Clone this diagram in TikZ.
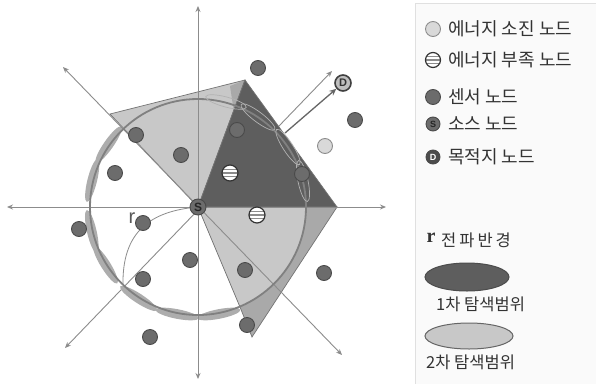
\documentclass[tikz,border=0pt]{standalone}
\usepackage{fontspec}
\setmainfont{Liberation Sans}
\newfontfamily\kr{Noto Sans CJK KR}
\newfontfamily\serifr{Liberation Serif}
\usetikzlibrary{arrows.meta,shapes.geometric}
\definecolor{axisgray}{HTML}{8C8C8C}
\definecolor{darkfill}{HTML}{5E5E5E}
\definecolor{lightfill}{HTML}{C8C8C8}
\definecolor{lightout}{HTML}{A9A9A9}
\definecolor{lensfill}{HTML}{ADADAD}
\definecolor{nodefill}{HTML}{6C6C6C}
\definecolor{nodeedge}{HTML}{4A4A4A}
\definecolor{txt}{HTML}{333333}
\begin{document}
\begin{tikzpicture}[x=1pt,y=-1pt,
  axis/.style={draw=axisgray, line width=0.9pt, {Stealth[length=6pt,width=5pt]}-{Stealth[length=6pt,width=5pt]}},
  region/.style={draw=black!55, line width=0.7pt},
  lens/.style={fill=lensfill},
  lensline/.style={draw=black!30, line width=0.7pt},
  sensor/.style={circle, minimum size=15pt, inner sep=0pt, fill=nodefill, draw=nodeedge, line width=0.9pt},
  dead/.style={circle, minimum size=15pt, inner sep=0pt, fill=black!15, draw=black!45, line width=0.9pt},
  weak/.style={circle, minimum size=16pt, inner sep=0pt, fill=white, draw=black!80, line width=1.2pt,
    path picture={\foreach \yy in {-3.5,0,3.5}
      \draw[black!45, line width=1.8pt] ([yshift=\yy pt]path picture bounding box.west) -- ([yshift=\yy pt]path picture bounding box.east);}},
  src/.style={circle, minimum size=16pt, inner sep=0pt, fill=nodefill, draw=nodeedge, line width=0.9pt, font=\bfseries\fontsize{12}{12}\selectfont, text=black!85},
  dst/.style={circle, minimum size=16pt, inner sep=0pt, fill=black!25, draw=black!75, line width=1.6pt, font=\bfseries\fontsize{11}{11}\selectfont, text=black!80},
  legtext/.style={anchor=west, font=\kr\fontsize{18}{20}\selectfont, text=txt, inner sep=0pt},
  legtextb/.style={anchor=west, font=\kr\fontsize{16.5}{18}\selectfont, text=txt, inner sep=0pt}
]
\useasboundingbox (0,0) rectangle (596,383);
\fill[white] (0,0) rectangle (596,383);
% legend frame
\draw[black!12, fill=black!2, line width=0.8pt] (415,3) rectangle (597,384);

% named coordinates
\coordinate (O) at (198,207);
\coordinate (axL) at (7,207);
\coordinate (axR) at (386,207);
\coordinate (axT) at (198,6);
\coordinate (axB) at (198,379);
\coordinate (dUL) at (63,67);
\coordinate (dDR) at (342,355);
\coordinate (dUR) at (332,71);
\coordinate (dDL) at (65,348);
\coordinate (pA) at (110,114);
\coordinate (pB) at (245,80);
\coordinate (pC) at (337,207);
\coordinate (pD) at (252,337);
\coordinate (pE) at (240,307);
\coordinate (dstart) at (285,133);

% hidden diagonal
\draw[axis] (dDL) -- (dUR);

% regions
\fill[lightfill] (O) -- (pA) -- (pB) -- cycle;
\fill[lightout] (230,86) -- (pB) -- (237,132) -- cycle;
\draw[region] (O) -- (pA) -- (pB) -- cycle;
\fill[darkfill] (O) -- (pB) -- (pC) -- cycle;
\draw[region] (O) -- (pB) -- (pC) -- cycle;
\fill[lightout] (O) -- (pC) -- (pD) -- (pE) -- cycle;
\begin{scope}
  \clip (O) -- (pC) -- (pD) -- (pE) -- cycle;
  \fill[lightfill] (O) circle[radius=108];
\end{scope}
\draw[region] (O) -- (pC) -- (pD) -- (pE) -- cycle;

% lenses along circle
\foreach \cx/\cy/\rot in {108.7/144.5/55, 92.2/180.6/76, 91.8/231.5/103, 105.6/264.8/122, 138.6/298.4/147, 177.2/314.0/169, 218.8/314.0/11}
  \fill[lens, shift={(\cx,\cy)}, rotate=\rot] (0,0) ellipse[x radius=22, y radius=4.8];

% visible axes
\draw[axis] (axL) -- (axR);
\draw[axis] (axT) -- (axB);
\draw[axis] (dUL) -- (dDR);

% circle of radius r
\draw[draw=black!50, line width=1.8pt] (O) circle[radius=108];

% lens outlines in first region
\foreach \cx/\cy/\rot in {226/102/-15, 258/117/-37, 288/147/-57, 303/181/-78}
  \draw[lensline, shift={(\cx,\cy)}, rotate=\rot] (0,0) ellipse[x radius=21, y radius=5];

% radius indicator
\draw[draw=black!45, line width=0.8pt] (O) .. controls (150,211) and (122,232) .. (123,285);
\node[font=\fontsize{20}{20}\selectfont, text=black!65, inner sep=0pt] (rlab) at (132,218) {r};

% nodes
\node[sensor] (n1) at (258,68) {};
\node[sensor] (n2) at (355,120) {};
\node[sensor] (n3) at (237,130) {};
\node[sensor] (n4) at (136,135) {};
\node[sensor] (n5) at (181,155) {};
\node[sensor] (n6) at (115,173) {};
\node[sensor] (n7) at (302,174) {};
\node[sensor] (n8) at (143,223) {};
\node[sensor] (n9) at (79,229) {};
\node[sensor] (n10) at (190,260) {};
\node[sensor] (n11) at (245,270) {};
\node[sensor] (n12) at (324,273) {};
\node[sensor] (n13) at (143,279) {};
\node[sensor] (n14) at (150,337) {};
\node[sensor] (n15) at (247,325) {};
\node[dead] (e1) at (325,146) {};
\node[weak] (w1) at (230,173) {};
\node[weak] (w2) at (257,215) {};
\node[src] (S) at (O) {S};
\node[dst] (D) at (343,83) {D};

% path to destination
\draw[draw=black!60, line width=1.3pt, -{Stealth[length=7pt,width=6pt]}] (dstart) -- (D);

% legend
\node[dead, minimum size=15pt] (L1) at (433,29) {};
\node[legtext] (T1) at (448,29) {에너지 소진 노드};
\node[weak, minimum size=15pt] (L2) at (433,60) {};
\node[legtext] (T2) at (448,60) {에너지 부족 노드};
\node[sensor] (L3) at (433,97) {};
\node[legtext] (T3) at (448,97) {센서 노드};
\node[src, minimum size=14pt, font=\bfseries\fontsize{9}{9}\selectfont] (L4) at (433,124) {S};
\node[legtext] (T4) at (448,124) {소스 노드};
\node[sensor, minimum size=14pt, fill=black!70, font=\bfseries\fontsize{9}{9}\selectfont, text=white] (L5) at (433,157) {D};
\node[legtext] (T5) at (448,157) {목적지 노드};
\node[font=\serifr\bfseries\fontsize{20}{20}\selectfont, text=txt, inner sep=0pt] (Lr) at (431,238) {r};
\node[legtextb] (T6) at (441,240) {전\hspace{3pt}파\hspace{3pt}반\hspace{3pt}경};
\node[ellipse, fill=darkfill, draw=black!70, line width=1pt, minimum width=84pt, minimum height=28pt, inner sep=0pt] (L6) at (467,277) {};
\node[legtextb] (T7) at (436,304) {1차 탐색범위};
\node[ellipse, fill=lightfill, draw=black!60, line width=1pt, minimum width=88pt, minimum height=26pt, inner sep=0pt] (L7) at (469,336) {};
\node[legtextb] (T8) at (426,362) {2차 탐색범위};
\end{tikzpicture}
\end{document}
